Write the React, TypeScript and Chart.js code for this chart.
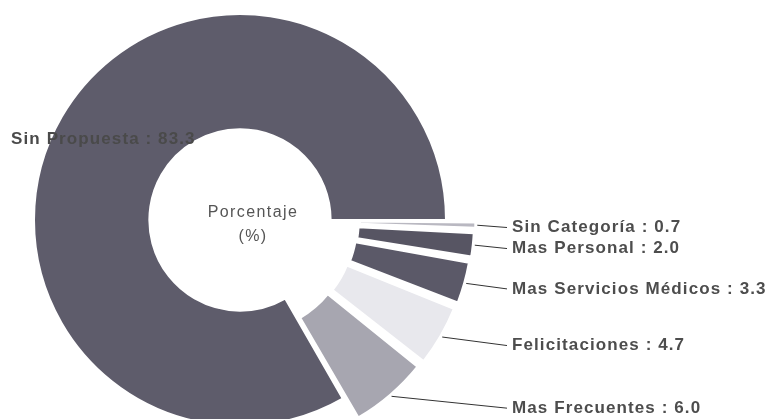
import { useEffect, useRef } from "react";
import { Chart, registerables } from "chart.js";

Chart.register(...registerables);

const categories = [
  "Sin Categoría",
  "Mas Personal",
  "Mas Servicios Médicos",
  "Felicitaciones",
  "Mas Frecuentes",
  "Sin Propuesta",
];
const percentages = [0.7, 2.0, 3.3, 4.7, 6.0, 83.3];
const sliceColors = ["#b9b8c1", "#575563", "#5b5968", "#e8e8ed", "#a7a6b0", "#5e5c6b"];
const sliceOffsets = [60, 60, 60, 60, 60, 0];
const centerTitle = ["Porcentaje", "(%)"];

const FONT = '"Liberation Sans", Arial, sans-serif';

const labelsPlugin = {
  id: "sliceLabels",
  afterDatasetsDraw(chart: any) {
    const ctx = chart.ctx as CanvasRenderingContext2D;
    const meta = chart.getDatasetMeta(0);
    const arcs = meta.data;
    if (!arcs.length) return;
    const cx = arcs[0].x;
    const cy = arcs[0].y;
    ctx.save();

    // centre title
    (ctx as any).letterSpacing = "1.4px";
    ctx.fillStyle = "#555555";
    ctx.font = `16px ${FONT}`;
    ctx.textAlign = "center";
    ctx.textBaseline = "middle";
    ctx.fillText(centerTitle[0], cx + 13, cy - 7);
    ctx.fillText(centerTitle[1], cx + 13, cy + 17);

    (ctx as any).letterSpacing = "1.1px";
    ctx.font = `bold 17px ${FONT}`;
    arcs.forEach((arc: any, i: number) => {
      const p = arc.getProps(
        ["x", "y", "startAngle", "endAngle", "outerRadius", "innerRadius", "circumference"],
        true
      );
      const text = `${categories[i]} : ${percentages[i].toFixed(1)}`;
      const mid = (p.startAngle + p.endAngle) / 2;
      const shift = (sliceOffsets[i] || 0) / 4;
      const fix = 1 - Math.sin(Math.min(Math.PI, p.circumference || 0));
      if (!sliceOffsets[i]) {
        // big slice: label inside the ring
        const r = ((p.innerRadius + p.outerRadius) / 2) * 1.08;
        ctx.fillStyle = "#4a4a4a";
        ctx.textAlign = "center";
        ctx.textBaseline = "middle";
        ctx.fillText(text, p.x + 2 + Math.cos(mid) * r, p.y + Math.sin(mid) * r);
        return;
      }
      const rOut = shift + p.outerRadius + shift * fix + 2;
      const sx = p.x + Math.cos(mid) * rOut;
      const sy = p.y + Math.sin(mid) * rOut;
      const ex = p.x + p.outerRadius + 61;
      const ey = sy + 2 + 13 * Math.sin(mid);
      ctx.strokeStyle = "#333333";
      ctx.lineWidth = 1;
      ctx.beginPath();
      ctx.moveTo(sx, sy);
      ctx.lineTo(ex, ey);
      ctx.stroke();
      ctx.fillStyle = "#4d4d4d";
      ctx.textAlign = "left";
      ctx.textBaseline = "middle";
      ctx.fillText(text, ex + 5, ey);
    });
    ctx.restore();
  },
};

export default function App() {
  const ref = useRef<HTMLCanvasElement | null>(null);
  useEffect(() => {
    if (!ref.current) return;
    const chart = new Chart(ref.current, {
      type: "doughnut",
      data: {
        labels: categories,
        datasets: [
          {
            data: percentages,
            backgroundColor: sliceColors,
            borderColor: "#ffffff",
            borderWidth: 2,
            offset: sliceOffsets,
            clip: false,
          } as any,
        ],
      },
      options: {
        responsive: false,
        devicePixelRatio: 1,
        animation: false,
        cutout: "44%",
        radius: 206,
        rotation: 90,
        layout: { padding: { left: 0, right: 293, top: 21, bottom: 0 } },
        plugins: { legend: { display: false }, tooltip: { enabled: false } },
        events: [],
      } as any,
      plugins: [labelsPlugin],
    });
    return () => chart.destroy();
  }, []);
  return (
    <div style={{ position: "absolute", left: 0, top: 0, width: 773, height: 419, background: "#ffffff" }}>
      <canvas ref={ref} width={773} height={419} style={{ display: "block" }} />
    </div>
  );
}
